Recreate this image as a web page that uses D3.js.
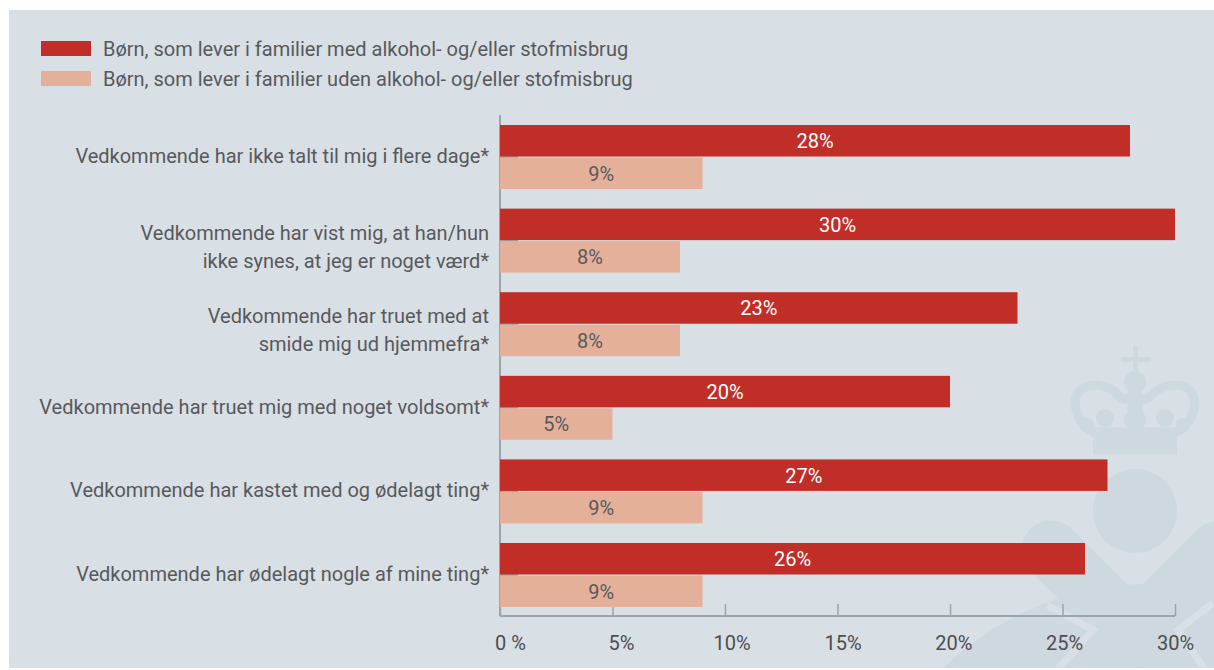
<!DOCTYPE html>
<html>
<head>
<meta charset="utf-8">
<script src="https://cdn.jsdelivr.net/npm/d3@7"></script>
<style>
  html, body { margin: 0; padding: 0; background: #fff; }
  svg { display: block; }
  text { font-family: Roboto, "Noto Sans", sans-serif; }
</style>
</head>
<body>
<svg id="chart" width="1214" height="670"></svg>
<script>
// data
var categories = [
    'Vedkommende har ikke talt til mig i flere dage*',
    'Vedkommende har vist mig, at han/hun\nikke synes, at jeg er noget værd*',
    'Vedkommende har truet med at\nsmide mig ud hjemmefra*',
    'Vedkommende har truet mig med noget voldsomt*',
    'Vedkommende har kastet med og ødelagt ting*',
    'Vedkommende har ødelagt nogle af mine ting*'
];
var seriesNames = [
    'Børn, som lever i familier med alkohol- og/eller stofmisbrug',
    'Børn, som lever i familier uden alkohol- og/eller stofmisbrug'
];
var withAbuse = [28, 30, 23, 20, 27, 26];
var withoutAbuse = [9, 8, 8, 5, 9, 9];
var xTicks = [0, 5, 10, 15, 20, 25, 30];

var colors = ['#c02e27', '#e5b09a'];
var valueColors = ['#ffffff', '#58595b'];
var textColor = '#58595b';
var axisColor = '#9ba5ad';
var bgColor = '#d8dfe5';
var markColor = '#cdd8df';

var svg = d3.select('#chart');

// panel
svg.append('rect')
    .attr('x', 9).attr('y', 10)
    .attr('width', 1205).attr('height', 658)
    .attr('fill', bgColor);

svg.append('clipPath').attr('id', 'panel')
    .append('rect')
    .attr('x', 9).attr('y', 10)
    .attr('width', 1205).attr('height', 658);

// faint logo in the background
var logo = svg.append('g').attr('clip-path', 'url(#panel)').attr('fill', markColor);
logo.append('circle').attr('cx', 1150).attr('cy', 880).attr('r', 296);
logo.append('line')
    .attr('x1', 1051).attr('y1', 550).attr('x2', 1251).attr('y2', 750)
    .attr('stroke', markColor).attr('stroke-width', 59).attr('stroke-linecap', 'round');
logo.append('line')
    .attr('x1', 1219).attr('y1', 550).attr('x2', 1019).attr('y2', 750)
    .attr('stroke', markColor).attr('stroke-width', 59).attr('stroke-linecap', 'round');
logo.append('path')
    .attr('d', 'M1047,605L1093,630L1057,670M1213,603L1178,630L1205,670')
    .attr('fill', 'none').attr('stroke', bgColor).attr('stroke-width', 7);
logo.append('circle').attr('cx', 1135).attr('cy', 511).attr('r', 42);
// crown
logo.append('rect').attr('x', 1133).attr('y', 346).attr('width', 5).attr('height', 28);
logo.append('rect').attr('x', 1121).attr('y', 357).attr('width', 30).attr('height', 5);
logo.append('rect').attr('x', 1093).attr('y', 430).attr('width', 84).attr('height', 24);
logo.append('path')
    .attr('d', 'M1093,432C1080,425 1070,405 1078,393C1086,380 1110,385 1118,395C1125,402 1130,400 1135,392' +
        'C1140,400 1145,402 1152,395C1160,385 1184,380 1192,393C1200,405 1190,425 1177,432Z')
    .attr('fill', 'none').attr('stroke', markColor).attr('stroke-width', 9);
logo.append('circle').attr('cx', 1135).attr('cy', 382).attr('r', 11);
logo.append('circle').attr('cx', 1135).attr('cy', 408).attr('r', 8);
logo.append('circle').attr('cx', 1135).attr('cy', 420).attr('r', 11);
logo.append('circle').attr('cx', 1105).attr('cy', 418).attr('r', 9);
logo.append('circle').attr('cx', 1165).attr('cy', 418).attr('r', 9);
logo.append('circle').attr('cx', 1087).attr('cy', 425).attr('r', 7);
logo.append('circle').attr('cx', 1183).attr('cy', 425).attr('r', 7);

// legend
var legend = svg.append('g');
seriesNames.forEach(function (name, i) {
    legend.append('rect')
        .attr('x', 41).attr('y', 41 + i * 30)
        .attr('width', 50).attr('height', 15)
        .attr('fill', colors[i]);
    legend.append('text')
        .attr('x', 103).attr('y', 56 + i * 30)
        .attr('fill', textColor)
        .style('font-size', '20px')
        .text(name);
});

// scales
var x = d3.scaleLinear().domain([0, 30]).range([500, 1175]);
var y = d3.scaleBand().domain(d3.range(categories.length))
    .range([115, 617]).paddingInner(0.235).paddingOuter(0.12);
var sub = d3.scaleBand().domain([0, 1]).range([0, y.bandwidth()]).paddingInner(0.03);

// x axis; the labels sit a little right of the ticks near zero
var xAxis = svg.append('g')
    .attr('transform', 'translate(0,616)')
    .call(d3.axisTop(x).tickValues(xTicks).tickSize(12).tickFormat(function (d) {
        return d === 0 ? '0 %' : d + '%';
    }));
xAxis.select('.domain').attr('stroke', axisColor).attr('stroke-width', 2).attr('d', 'M500,0H' + x(30));
xAxis.selectAll('.tick line').attr('stroke', axisColor).attr('stroke-width', 1.5);
xAxis.selectAll('.tick text')
    .attr('y', 34)
    .attr('x', function (d) { return (30 - d) / 3; })
    .attr('fill', '#4d4e50')
    .style('font-size', '20px')
    .style('font-family', 'Roboto, sans-serif');

// category axis line and small ticks
svg.append('line')
    .attr('x1', 500).attr('x2', 500).attr('y1', 115).attr('y2', 616)
    .attr('stroke', axisColor).attr('stroke-width', 2);
svg.append('g').selectAll('line')
    .data(categories)
    .join('line')
    .attr('x1', 500).attr('x2', 518)
    .attr('y1', function (d, i) { return y(i) + y.bandwidth() / 2; })
    .attr('y2', function (d, i) { return y(i) + y.bandwidth() / 2; })
    .attr('stroke', axisColor).attr('stroke-width', 2);

// category labels
svg.append('g').selectAll('text')
    .data(categories)
    .join('text')
    .attr('text-anchor', 'end')
    .attr('fill', textColor)
    .style('font-size', '20px')
    .each(function (d, i) {
        var lines = d.split('\n');
        var c = y(i) + y.bandwidth() / 2;
        var offsets = lines.length === 1 ? [6] : [-1, 27];
        d3.select(this).selectAll('tspan')
            .data(lines)
            .join('tspan')
            .attr('x', 489)
            .attr('y', function (l, j) { return c + offsets[j]; })
            .text(function (l) { return l; });
    });

// bars
[withAbuse, withoutAbuse].forEach(function (values, s) {
    var g = svg.append('g');
    g.selectAll('rect')
        .data(values)
        .join('rect')
        .attr('x', x(0))
        .attr('y', function (d, i) { return y(i) + sub(s); })
        .attr('width', function (d) { return x(d) - x(0); })
        .attr('height', sub.bandwidth())
        .attr('fill', colors[s]);
    g.selectAll('text')
        .data(values)
        .join('text')
        .attr('x', function (d) { return (x(0) + x(d)) / 2; })
        .attr('y', function (d, i) { return y(i) + sub(s) + sub.bandwidth() / 2; })
        .attr('dy', '0.37em')
        .attr('text-anchor', 'middle')
        .attr('fill', valueColors[s])
        .style('font-size', '20px')
        .text(function (d) { return d + '%'; });
});
</script>
</body>
</html>
